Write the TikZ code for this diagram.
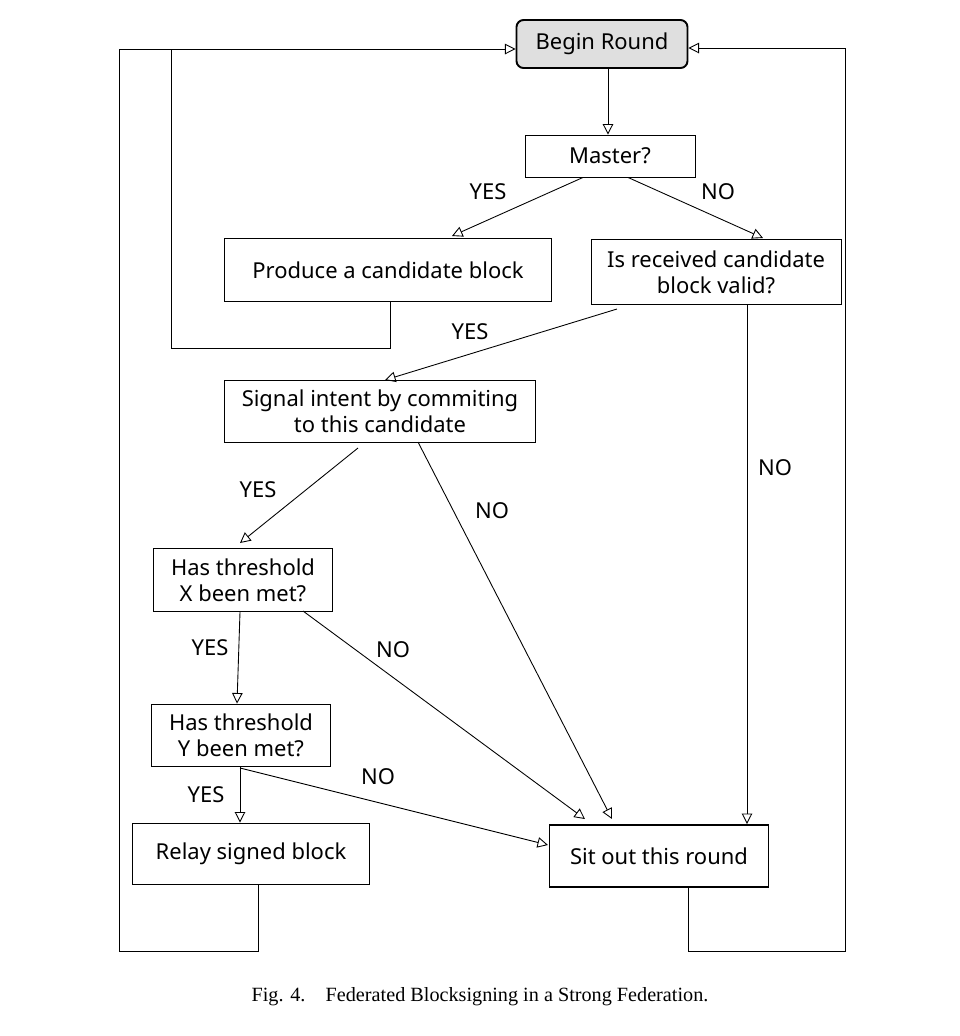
\documentclass[tikz,border=0pt]{standalone}
\usepackage{fontspec}
\setmainfont{Noto Sans}
\newfontfamily\capfont{Liberation Serif}
\usetikzlibrary{arrows.meta}
\begin{document}
\begin{tikzpicture}[x=0.02cm,y=-0.02cm,
  box/.style={draw,inner sep=0pt,align=center,font=\fontsize{12.5}{15}\selectfont,line width=0.5pt},
  thick box/.style={box,line width=1.1pt},
  arr/.style={draw,line width=0.5pt,-{Triangle[open,length=6pt,width=6pt]}},
  lab/.style={font=\fontsize{12.5}{15}\selectfont}]
\useasboundingbox (0,0) rectangle (960,1036);
\node[box,rounded corners=4pt,fill=gray!25,line width=1.1pt,minimum width=171*0.02cm,minimum height=48*0.02cm,font=\fontsize{12.5}{15}\selectfont\bfseries] (begin) at (602,44) {Begin Round};
\node[box,minimum width=170*0.02cm,minimum height=42*0.02cm] (master) at (610,156) {Master?};
\node[thick box,minimum width=327*0.02cm,minimum height=63*0.02cm,font=\fontsize{12.5}{15}\selectfont\bfseries] (produce) at (388,270) {Produce a candidate block};
\node[box,minimum width=250*0.02cm,minimum height=65*0.02cm] (valid) at (716,272) {Is received candidate\\block valid?};
\node[box,minimum width=311*0.02cm,minimum height=62*0.02cm] (signal) at (380,411) {Signal intent by commiting\\to this candidate};
\node[box,minimum width=179*0.02cm,minimum height=63*0.02cm] (x) at (243,580) {Has threshold\\X been met?};
\node[box,minimum width=179*0.02cm,minimum height=62*0.02cm] (y) at (241,735) {Has threshold\\Y been met?};
\node[thick box,minimum width=237*0.02cm,minimum height=61*0.02cm] (relay) at (251,854) {Relay signed block};
\node[thick box,minimum width=219*0.02cm,minimum height=62*0.02cm] (sit) at (659,856) {Sit out this round};

\path[arr] (begin.south -| 608,0) -- (master.north -| 608,0);
\path[arr] (master.south -| 583,0) -- (452,236);
\path[arr] (master.south -| 628,0) -- (763,238);
\path[arr] (617,309) -- (385,380);
\path[arr] (valid.south -| 747,0) -- (sit.north -| 747,0);
\path[arr] (358,448) -- (240,543);
\path[arr] (418,442) -- (612,819);
\path[arr] (x.south -| 240,0) -- (y.north -| 237,0);
\path[arr] (303,611) -- (585,819);
\path[arr] (y.south -| 240,0) -- (relay.north -| 240,0);
\path[arr] (240,768) -- (548,845);

\node[lab] at (488,192) {YES};
\node[lab] at (718,192) {NO};
\node[lab] at (470,332) {YES};
\node[lab] at (775,468) {NO};
\node[lab] at (258,490) {YES};
\node[lab] at (492,511) {NO};
\node[lab] at (210,648) {YES};
\node[lab] at (393,650) {NO};
\node[lab] at (206,795) {YES};
\node[lab] at (378,777) {NO};

\draw[line width=0.5pt] (produce.south -| 390,0) |- (171,348) -- (171,49);
\path[arr] (relay.south -| 258,0) |- (119,951) |- (begin.west |- 0,49);
\path[arr] (sit.south -| 688,0) |- (845,951) |- (begin.east |- 0,48);

\node[font=\capfont\fontsize{11.5}{14}\selectfont] (cap) at (480,997) {Fig. 4.\quad Federated Blocksigning in a Strong Federation.};
\end{tikzpicture}
\end{document}
